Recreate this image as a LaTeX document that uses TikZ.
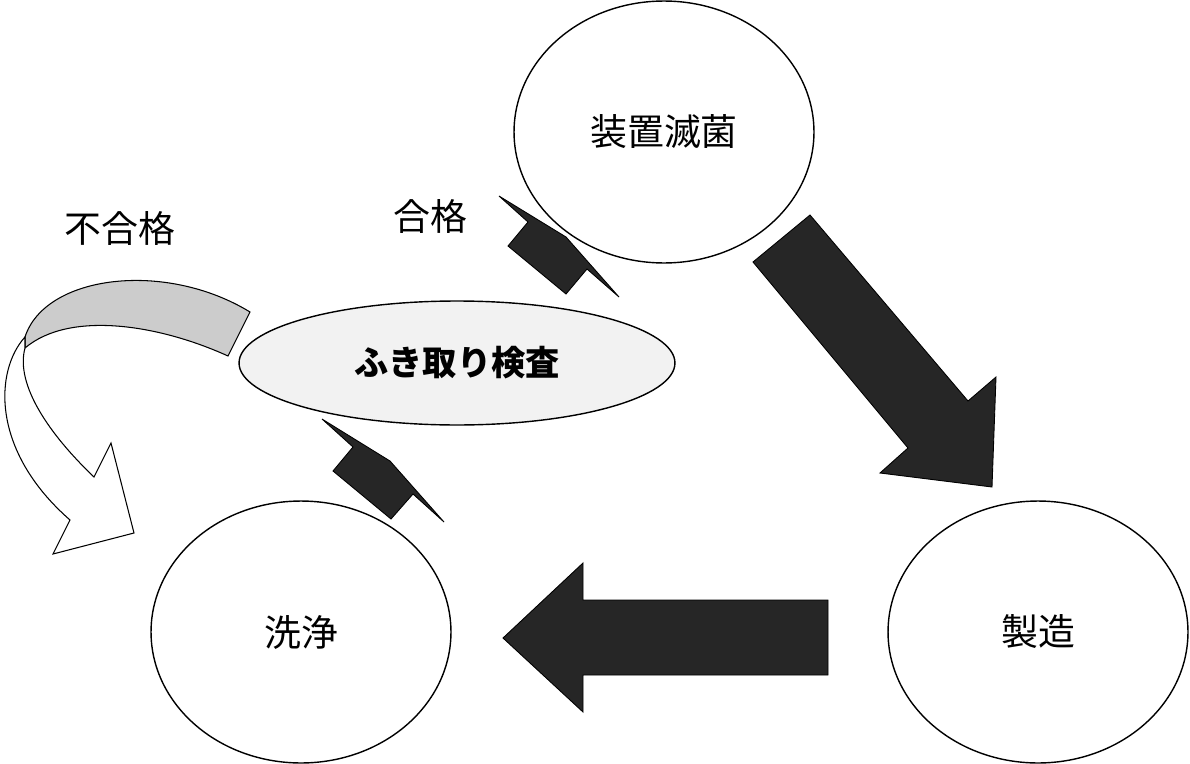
\documentclass[tikz,border=0pt]{standalone}
\usepackage{fontspec}
\usepackage{xcolor}
\usepackage{tikz}
\usetikzlibrary{shapes.geometric}
\newfontfamily\jp{Noto Sans CJK JP}
\definecolor{arrowdark}{RGB}{38,38,38}
\definecolor{bandgray}{RGB}{204,204,204}
\definecolor{checkfill}{RGB}{242,242,242}
\tikzset{
    stage/.style={ellipse, draw, line width=0.8pt, fill=white, inner sep=0pt,
        minimum width=6cm, minimum height=5.24cm, font=\jp\fontsize{21}{25}\selectfont},
    blockarrow/.style={draw, line width=0.5pt, fill=arrowdark},
    label/.style={font=\jp\fontsize{21}{25}\selectfont, inner sep=0pt}
}

\begin{document}
\begin{tikzpicture}[x=0.02cm, y=-0.02cm]
    \useasboundingbox (0,0) rectangle (1190,764);

    \node[stage] (steril) at (664,132) {装置滅菌};
    \node[stage] (prod) at (1038,632) {製造};
    \node[stage] (wash) at (301,632) {洗浄};
    \node[stage, fill=checkfill, minimum width=8.72cm, minimum height=2.48cm,
        font=\jp\bfseries\fontsize{19.5}{24}\selectfont] (check) at (457,363) {ふき取り検査};

    \node[label] (pass) at (430,216) {合格};
    \node[label] (fail) at (120,228) {不合格};

    % big arrows
    \draw[blockarrow] (810,215) -- (753,262) -- (908,448) -- (880,473)
        -- (992,487) -- (996,377) -- (968,401) -- cycle;
    \draw[blockarrow] (828,600) -- (583,600) -- (583,563) -- (503,638)
        -- (583,712) -- (583,675) -- (828,675) -- cycle;

    % small arrows
    \draw[blockarrow] (499,196) -- (566,237) -- (619,297) -- (587,269)
        -- (566,294) -- (508,246) -- (528,222) -- cycle;
    \draw[blockarrow] (322,419) -- (390,461) -- (444,522) -- (413,494)
        -- (391,519) -- (333,471) -- (353,447) -- cycle;

    % curved arrow
    \draw[line width=0.6pt, fill=bandgray] (25,337) .. controls (45,275) and (165,260) .. (250,312)
        -- (228,356) .. controls (160,325) and (70,310) .. (25,348) -- cycle;
    \draw[line width=0.6pt, fill=white] (25,337) .. controls (-5,370) and (-10,450) .. (70,520)
        -- (53,554) -- (134,533) -- (111,443) -- (94,477)
        .. controls (50,435) and (15,385) .. (25,348) -- cycle;
\end{tikzpicture}
\end{document}
